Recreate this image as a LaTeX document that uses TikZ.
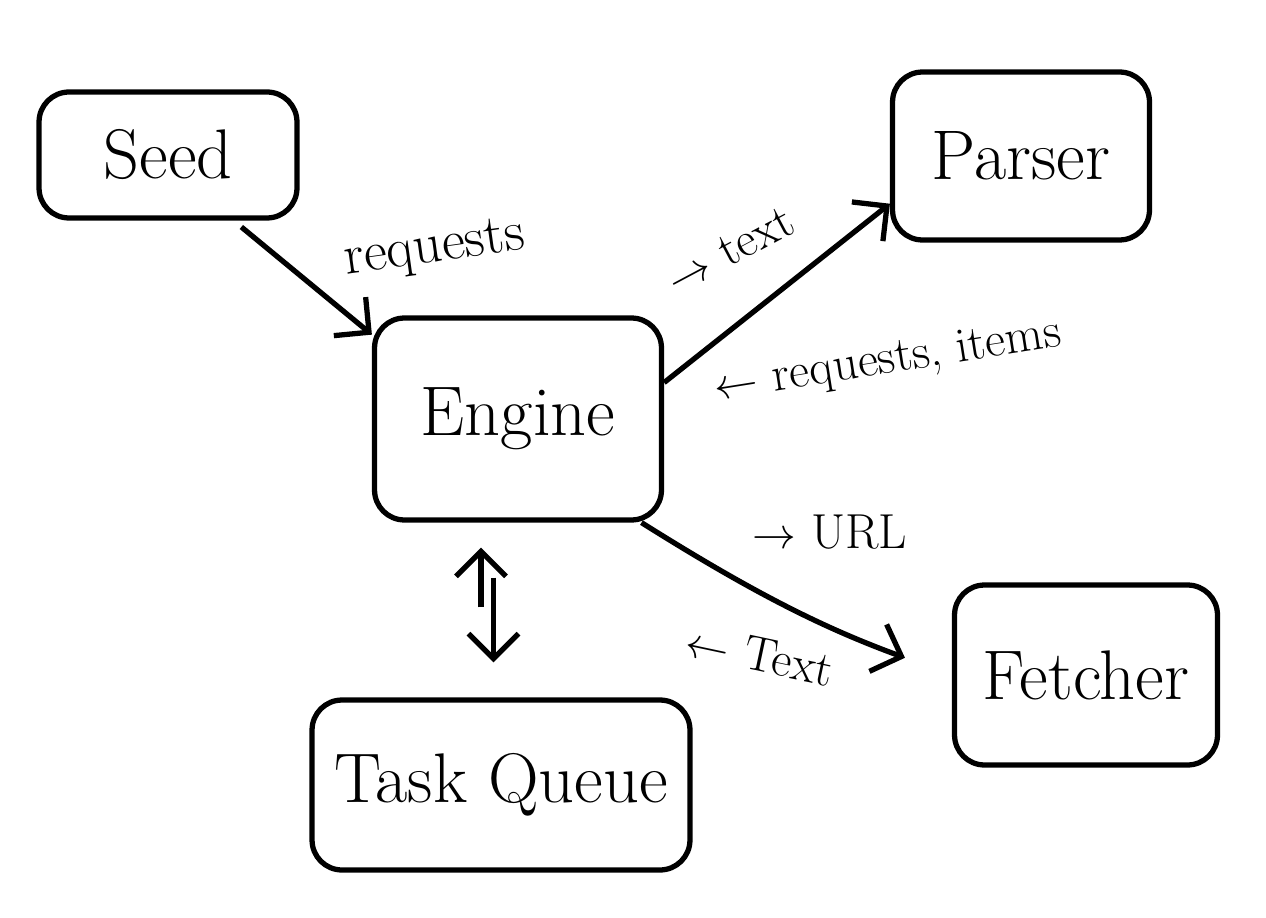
\documentclass[tikz,border=0pt]{standalone}
\usepackage{amsmath}
\usepackage{tikz}
\usetikzlibrary{arrows.meta}

\begin{document}
\begin{tikzpicture}[x=0.02cm, y=-0.02cm,
    box/.style={draw, line width=3pt, rounded corners=0.6cm, font=\fontsize{40}{46}\selectfont},
    flow/.style={line width=3pt, -{Straight Barb[length=5mm, width=1cm]}},
    lbl/.style={font=\fontsize{28}{32}\selectfont}]
    \useasboundingbox (0,0) rectangle (1266,918);

    % Blocs
    \node[box, minimum width=5.16cm, minimum height=2.52cm] (seed) at (168,155) {Seed};
    \node[box, minimum width=5.14cm, minimum height=3.36cm] (parser) at (1021,156) {Parser};
    \node[box, minimum width=5.74cm, minimum height=4.04cm] (engine) at (518,419) {Engine};
    \node[box, minimum width=5.26cm, minimum height=3.6cm] (fetcher) at (1086,675) {Fetcher};
    \node[box, minimum width=7.56cm, minimum height=3.4cm] (queue) at (501,785) {Task Queue};

    % Fletxes
    \draw[flow, shorten <=0.2cm] (seed.-45) -- (engine.150);
    \draw[flow] (engine.14) -- (parser.200);
    \draw[flow, shorten >=1cm] (engine.-40) to[bend right=6] (fetcher.west);
    \draw[flow, shorten <=1.8cm, shorten >=0.5cm] ([xshift=-0.4cm]queue.north) -- ([xshift=-0.4cm]queue.north |- engine.south);
    \draw[flow, shorten <=1.1cm, shorten >=0.7cm] ([xshift=-0.15cm]queue.north |- engine.south) -- ([xshift=-0.15cm]queue.north);

    % Etiquetes
    \node[lbl, font=\fontsize{32}{36}\selectfont, rotate=8] (lreq) at (435,250) {requests};
    \node[lbl, rotate=28] (ltext) at (730,250) {$\rightarrow$ text};
    \node[lbl, rotate=9] (lback) at (888,362) {$\leftarrow$ requests, items};
    \node[lbl] (lurl) at (830,532) {$\rightarrow$ URL};
    \node[lbl, rotate=-12] (lpage) at (760,655) {$\leftarrow$ Text};
\end{tikzpicture}
\end{document}
